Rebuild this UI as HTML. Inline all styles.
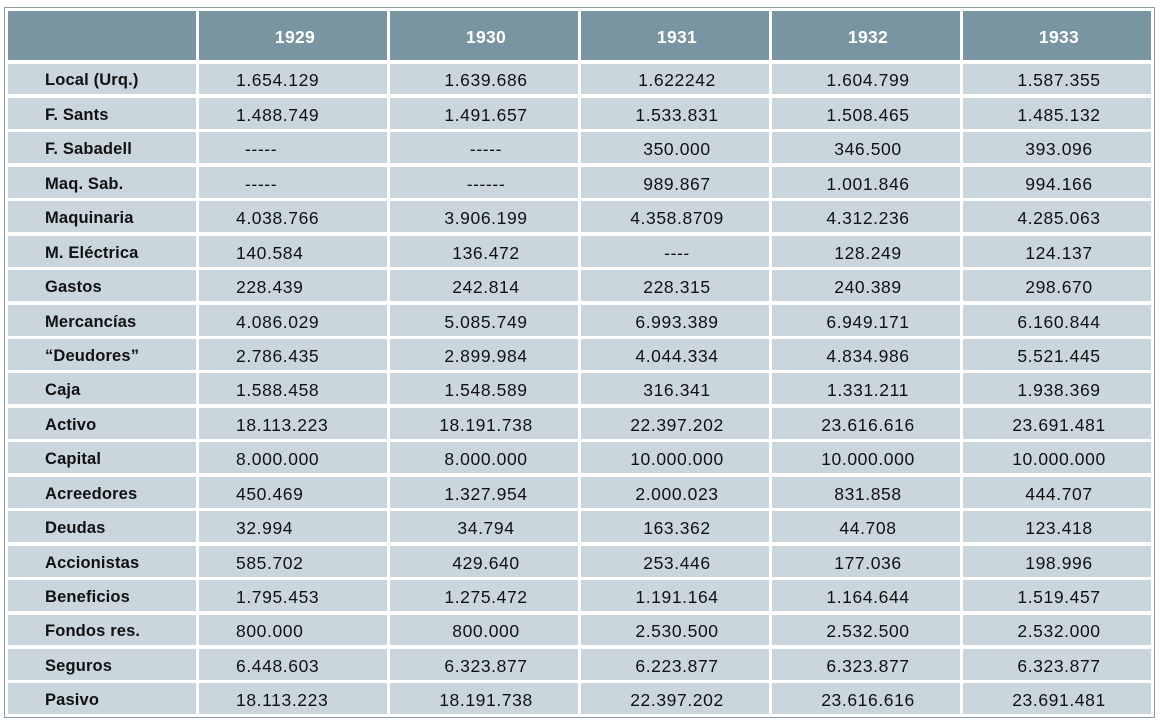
<!DOCTYPE html>
<html>
<head>
<meta charset="utf-8">
<style>
html,body{margin:0;padding:0;background:#fff;}
body{width:1162px;height:724px;position:relative;overflow:hidden;font-family:"Liberation Sans",Arial,sans-serif;}
.frame{position:absolute;left:4px;top:7px;width:1151px;height:711px;box-sizing:border-box;border:1px solid #8c9ca5;}
.grid{position:absolute;left:8px;top:11px;display:grid;
  grid-template-columns:188px repeat(5,188px);
  grid-template-rows:49px repeat(19,30.94px);
  column-gap:3px;row-gap:3.5px;}
.grid>div{background:#c9d6de;color:#111;font-size:17.5px;letter-spacing:0.6px;white-space:nowrap;
  display:flex;align-items:center;justify-content:center;padding-top:4px;box-sizing:border-box;}
.grid>div.h{background:#7a95a2;color:#fff;font-weight:bold;font-size:17.5px;letter-spacing:0.3px;padding-top:4px;padding-left:4px;}
.grid>div.l{justify-content:flex-start;padding-left:37px;font-weight:bold;font-size:16.5px;letter-spacing:0.15px;}
.grid>div.a{justify-content:flex-start;padding-left:37px;}
.grid>div.c{padding-left:4px;}
</style>
</head>
<body>
<div class="frame"></div>
<div class="grid">
<div class="h"></div><div class="h">1929</div><div class="h">1930</div><div class="h">1931</div><div class="h">1932</div><div class="h">1933</div>

<div class="l">Local (Urq.)</div><div class="a">1.654.129</div><div class="c">1.639.686</div><div class="c">1.622242</div><div class="c">1.604.799</div><div class="c">1.587.355</div>
<div class="l">F. Sants</div><div class="a">1.488.749</div><div class="c">1.491.657</div><div class="c">1.533.831</div><div class="c">1.508.465</div><div class="c">1.485.132</div>
<div class="l">F. Sabadell</div><div class="a"><span style="padding-left:9px">-----</span></div><div class="c">-----</div><div class="c">350.000</div><div class="c">346.500</div><div class="c">393.096</div>
<div class="l">Maq. Sab.</div><div class="a"><span style="padding-left:9px">-----</span></div><div class="c">------</div><div class="c">989.867</div><div class="c">1.001.846</div><div class="c">994.166</div>
<div class="l">Maquinaria</div><div class="a">4.038.766</div><div class="c">3.906.199</div><div class="c">4.358.8709</div><div class="c">4.312.236</div><div class="c">4.285.063</div>
<div class="l">M. Eléctrica</div><div class="a">140.584</div><div class="c">136.472</div><div class="c">----</div><div class="c">128.249</div><div class="c">124.137</div>
<div class="l">Gastos</div><div class="a">228.439</div><div class="c">242.814</div><div class="c">228.315</div><div class="c">240.389</div><div class="c">298.670</div>
<div class="l">Mercancías</div><div class="a">4.086.029</div><div class="c">5.085.749</div><div class="c">6.993.389</div><div class="c">6.949.171</div><div class="c">6.160.844</div>
<div class="l">“Deudores”</div><div class="a">2.786.435</div><div class="c">2.899.984</div><div class="c">4.044.334</div><div class="c">4.834.986</div><div class="c">5.521.445</div>
<div class="l">Caja</div><div class="a">1.588.458</div><div class="c">1.548.589</div><div class="c">316.341</div><div class="c">1.331.211</div><div class="c">1.938.369</div>
<div class="l">Activo</div><div class="a">18.113.223</div><div class="c">18.191.738</div><div class="c">22.397.202</div><div class="c">23.616.616</div><div class="c">23.691.481</div>
<div class="l">Capital</div><div class="a">8.000.000</div><div class="c">8.000.000</div><div class="c">10.000.000</div><div class="c">10.000.000</div><div class="c">10.000.000</div>
<div class="l">Acreedores</div><div class="a">450.469</div><div class="c">1.327.954</div><div class="c">2.000.023</div><div class="c">831.858</div><div class="c">444.707</div>
<div class="l">Deudas</div><div class="a">32.994</div><div class="c">34.794</div><div class="c">163.362</div><div class="c">44.708</div><div class="c">123.418</div>
<div class="l">Accionistas</div><div class="a">585.702</div><div class="c">429.640</div><div class="c">253.446</div><div class="c">177.036</div><div class="c">198.996</div>
<div class="l">Beneficios</div><div class="a">1.795.453</div><div class="c">1.275.472</div><div class="c">1.191.164</div><div class="c">1.164.644</div><div class="c">1.519.457</div>
<div class="l">Fondos res.</div><div class="a">800.000</div><div class="c">800.000</div><div class="c">2.530.500</div><div class="c">2.532.500</div><div class="c">2.532.000</div>
<div class="l">Seguros</div><div class="a">6.448.603</div><div class="c">6.323.877</div><div class="c">6.223.877</div><div class="c">6.323.877</div><div class="c">6.323.877</div>
<div class="l">Pasivo</div><div class="a">18.113.223</div><div class="c">18.191.738</div><div class="c">22.397.202</div><div class="c">23.616.616</div><div class="c">23.691.481</div>
</div>
</body>
</html>
